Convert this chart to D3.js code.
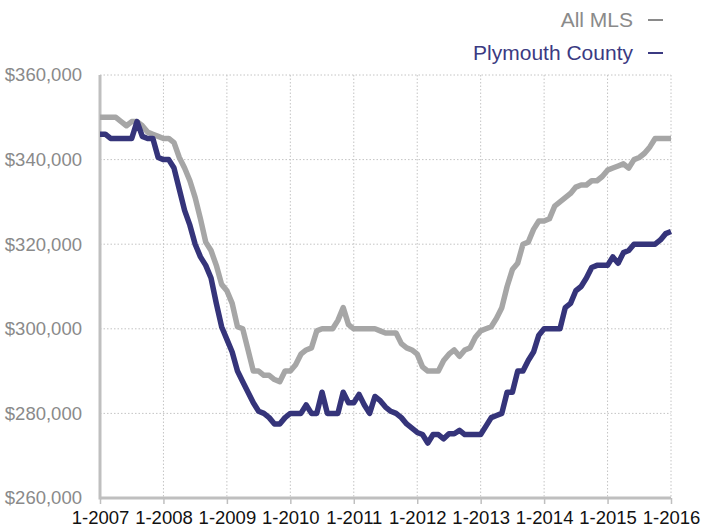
<!DOCTYPE html>
<html>
<head>
<meta charset="utf-8">
<style>
  body { margin: 0; background: #fff; }
  svg text { font-family: "Liberation Sans", Arial, sans-serif; }
</style>
</head>
<body>
<svg width="702" height="531"></svg>
<script src="https://d3js.org/d3.v7.min.js"></script>
<script>
// monthly median price, 1-2007 .. 1-2016
const allMLS = [
  350000, 350000, 350000, 350000, 349000, 348000, 349000, 349000, 348000, 346500,
  346000, 345500, 345000, 345000, 344000, 340500, 338000, 335000, 331000, 326000,
  320500, 318500, 315000, 310500, 309000, 306000, 300500, 300000, 295000, 290000,
  290000, 289000, 289000, 288000, 287500, 290000, 290000, 291500, 294000, 295000,
  295500, 299500, 300000, 300000, 300000, 302000, 305000, 301000, 300000, 300000,
  300000, 300000, 300000, 299500, 299000, 299000, 299000, 296500, 295500, 295000,
  294000, 291000, 290000, 290000, 290000, 292500, 294000, 295000, 293500, 295000,
  295500, 298000, 299500, 300000, 300500, 302500, 305000, 310000, 314000, 315500,
  320000, 320500, 323500, 325500, 325500, 326000, 329000, 330000, 331000, 332000,
  333500, 334000, 334000, 335000, 335000, 336000, 337500, 338000, 338500, 339000,
  338000, 340000, 340500, 341500, 343000, 345000, 345000, 345000, 345000
];
const plymouth = [
  346000, 346000, 345000, 345000, 345000, 345000, 345000, 349000, 345500, 345000,
  345000, 340500, 340000, 340000, 338000, 333000, 328000, 324500, 320000, 317000,
  315000, 312000, 306000, 300500, 297500, 294500, 290000, 287500, 285000, 282500,
  280500, 280000, 279000, 277500, 277500, 279000, 280000, 280000, 280000, 282000,
  280000, 280000, 285000, 280000, 280000, 280000, 285000, 282500, 282500, 284500,
  282000, 280000, 284000, 283000, 281500, 280500, 280000, 279000, 277500, 276500,
  275500, 275000, 273000, 275000, 275000, 274000, 275200, 275200, 276000, 275000,
  275000, 275000, 275000, 277000, 279000, 279500, 280000, 285000, 285000, 290000,
  290000, 292500, 294500, 298500, 300000, 300000, 300000, 300000, 305000, 306000,
  309000, 310000, 312000, 314500, 315000, 315000, 315000, 317000, 315500, 318000,
  318500, 320000, 320000, 320000, 320000, 320000, 321000, 322500, 323000
];
const yearLabels = ["1-2007", "1-2008", "1-2009", "1-2010", "1-2011", "1-2012", "1-2013", "1-2014", "1-2015", "1-2016"];
const priceTicks = [260000, 280000, 300000, 320000, 340000, 360000];
const seriesNames = ["All MLS", "Plymouth County"];
const seriesColors = ["#a6a6a6", "#35347a"];

const svg = d3.select("svg");
const plotLeft = 100, plotRight = 671, plotTop = 75, plotBottom = 498;

const x = d3.scaleLinear().domain([0, allMLS.length - 1]).range([plotLeft, plotRight]);
const y = d3.scaleLinear().domain([260000, 360000]).range([plotBottom, plotTop]);
const yearTicks = yearLabels.map((d, i) => i * 12);

// dotted grid
svg.append("g")
  .selectAll("line")
  .data(priceTicks.filter(d => d > 260000))
  .join("line")
    .attr("x1", plotLeft).attr("x2", plotRight)
    .attr("y1", d => y(d)).attr("y2", d => y(d))
    .attr("stroke", "#c4c4c4").attr("stroke-width", 1)
    .attr("stroke-dasharray", "1.5,2");
svg.append("g")
  .selectAll("line")
  .data(yearTicks.slice(1))
  .join("line")
    .attr("x1", d => x(d)).attr("x2", d => x(d))
    .attr("y1", plotTop).attr("y2", plotBottom)
    .attr("stroke", "#c4c4c4").attr("stroke-width", 1)
    .attr("stroke-dasharray", "1.5,2");

// axes
const xAxis = d3.axisBottom(x)
  .tickValues(yearTicks)
  .tickFormat((d, i) => yearLabels[i])
  .tickSize(6)
  .tickPadding(7);
const gx = svg.append("g").attr("transform", `translate(0,${plotBottom})`).call(xAxis);
gx.select(".domain").attr("stroke", "#bfbfbf").attr("stroke-width", 3).attr("d", `M${plotLeft},0H${plotRight}`);
gx.selectAll(".tick line").attr("stroke", "#bfbfbf").attr("stroke-width", 1.5);
gx.selectAll("text").attr("fill", "#111").style("font-size", "18.5px");

const yAxis = d3.axisLeft(y)
  .tickValues(priceTicks)
  .tickFormat(d3.format("$,"))
  .tickSize(0)
  .tickPadding(18);
const gy = svg.append("g").attr("transform", `translate(${plotLeft},0)`).call(yAxis);
gy.select(".domain").attr("stroke", "#bfbfbf").attr("stroke-width", 3).attr("d", `M0,${plotTop}V${plotBottom + 1.5}`);
gy.selectAll("text").attr("fill", "#8a8a8a").style("font-size", "18.5px");

// lines
const line = d3.line()
  .x((d, i) => x(i))
  .y(d => y(d));

[allMLS, plymouth].forEach((s, k) => {
  svg.append("path")
    .datum(s)
    .attr("fill", "none")
    .attr("stroke", seriesColors[k])
    .attr("stroke-width", 5.5)
    .attr("stroke-linejoin", "round")
    .attr("d", line);
});

// legend
const legend = svg.append("g");
seriesNames.forEach((name, k) => {
  const ly = 19 + k * 33;
  legend.append("text")
    .attr("x", 633).attr("y", ly)
    .attr("dy", "0.36em")
    .attr("text-anchor", "end")
    .attr("fill", k === 0 ? "#8a8a8a" : "#3b3a82")
    .style("font-size", "21px")
    .text(name);
  legend.append("line")
    .attr("x1", 648).attr("x2", 663)
    .attr("y1", ly + 1).attr("y2", ly + 1)
    .attr("stroke", k === 0 ? "#8a8a8a" : "#3b3a82")
    .attr("stroke-width", 2);
});
</script>
</body>
</html>
